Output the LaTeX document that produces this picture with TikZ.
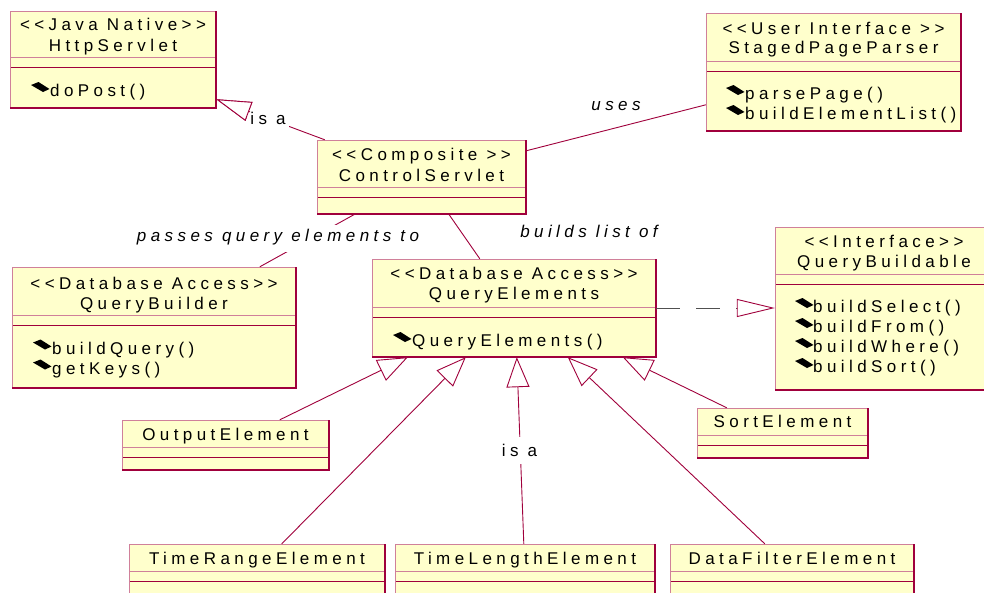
\documentclass[tikz,border=0pt]{standalone}
\usepackage{fontspec}
\newfontfamily\umlfont{Liberation Sans}[LetterSpace=26]
\usetikzlibrary{arrows.meta,calc,fit}

\definecolor{boxfill}{HTML}{FFFFCC}
\definecolor{maroon}{HTML}{A0003C}
\definecolor{edgelight}{HTML}{D0809A}
\definecolor{dashgray}{HTML}{505050}

\tikzset{
  umltext/.style={font=\umlfont\fontsize{17}{20}\selectfont, inner sep=0pt, text=black},
  titletext/.style={umltext, anchor=base},
  optext/.style={umltext, anchor=base west},
  lbltext/.style={umltext, anchor=base},
  conn/.style={draw=maroon, line width=0.9pt},
  gen/.style={conn, -{Triangle[length=30pt, width=23pt, fill=white]}},
  genwide/.style={conn, -{Triangle[length=35pt, width=20pt, fill=white]}},
  realize/.style={conn, -{Triangle[length=38pt, width=18pt, fill=white]}},
  dashline/.style={draw=dashgray, line width=0.9pt, dash pattern=on 24pt off 16pt},
}

% class frame: name, left, top, right, bottom, first divider
\newcommand\umlframe[6]{%
  \node[fit={(#2,#3) (#4,#5)}, inner sep=0pt] (#1) {};
  \fill[boxfill] (#2,#3) rectangle (#4,#5);
  \draw[edgelight, line width=1pt] (#2,#6) -- (#4,#6);
  \draw[maroon, line width=1pt] (#2,#6+10) -- (#4,#6+10);
  \draw[edgelight, line width=1pt] (#2,#5) -- (#2,#3) -- (#4,#3);
  \draw[maroon, line width=1.6pt] (#4,#3) -- (#4,#5) -- (#2,#5);
}
% operation marker: left x, baseline y
\newcommand\opicon[2]{%
  \fill[black] (#1,#2-11.5) -- (#1+7.5,#2-14.5) -- (#1+18.5,#2-7.5) -- (#1+12,#2-4.5) -- cycle;
}

\begin{document}
\begin{tikzpicture}[x=1pt,y=-1pt]
\clip (0,0) rectangle (984,592);
\fill[white] (0,0) rectangle (984,592);

% HttpServlet
\umlframe{http}{10}{11}{216}{108}{57}
\node[titletext] at (113,30) {<{}<Java Native>{}>};
\node[titletext] at (113,51.5) {HttpServlet};
\opicon{31}{96.5}
\node[optext] at (50,96.5) {doPost()};

% StagedPageParser
\umlframe{spp}{706}{13}{961}{131}{61}
\node[titletext] at (833.5,34) {<{}<User Interface >{}>};
\node[titletext] at (833.5,53.5) {StagedPageParser};
\opicon{726}{99.5}
\node[optext] at (745,99.5) {parsePage()};
\opicon{726}{119.5}
\node[optext] at (745,119.5) {buildElementList()};

% ControlServlet
\umlframe{cs}{317}{140}{526}{214}{187}
\node[titletext] at (421.5,160.5) {<{}<Composite >{}>};
\node[titletext] at (421.5,181) {ControlServlet};

% QueryElements
\umlframe{qe}{372}{259}{656}{357}{307}
\node[titletext] at (514,279.5) {<{}<Database Access>{}>};
\node[titletext] at (514,299.5) {QueryElements};
\opicon{393}{346.5}
\node[optext] at (412,346.5) {QueryElements()};

% QueryBuilder
\umlframe{qbld}{12}{267}{296}{388}{315}
\node[titletext] at (154,289) {<{}<Database Access>{}>};
\node[titletext] at (154,309) {QueryBuilder};
\opicon{33}{354}
\node[optext] at (52,354) {buildQuery()};
\opicon{33}{374}
\node[optext] at (52,374) {getKeys()};

% QueryBuildable
\umlframe{qba}{775}{227}{993}{390}{274}
\node[titletext] at (884,247) {<{}<Interface>{}>};
\node[titletext] at (884,267) {QueryBuildable};
\opicon{795}{312.5}
\node[optext] at (813,312.5) {buildSelect()};
\opicon{795}{332.5}
\node[optext] at (813,332.5) {buildFrom()};
\opicon{795}{352.5}
\node[optext] at (813,352.5) {buildWhere()};
\opicon{795}{372.5}
\node[optext] at (813,372.5) {buildSort()};

% element subclasses
\umlframe{out}{122}{420}{329}{470}{447}
\node[titletext] at (225.5,440) {OutputElement};
\umlframe{sort}{697}{408}{868}{458}{435}
\node[titletext] at (782.5,427) {SortElement};
\umlframe{tr}{129}{544}{385}{620}{571}
\node[titletext] at (257,564) {TimeRangeElement};
\umlframe{tl}{395}{544}{655}{620}{571}
\node[titletext] at (525,564) {TimeLengthElement};
\umlframe{df}{670}{544}{914}{620}{571}
\node[titletext] at (792,564) {DataFilterElement};

% ControlServlet is a HttpServlet
\coordinate (httpTip) at ($(http.south east)+(0,-9)$);
\coordinate (csCorner) at ($(cs.north west)+(8,0)$);
\draw[genwide] (csCorner) -- (httpTip);
\node[lbltext, fill=white, inner xsep=3pt, text height=14pt, text depth=4pt] at (268,124) {is a};
\draw[genwide] ($(httpTip)!36pt!(csCorner)$) -- (httpTip);

% ControlServlet uses StagedPageParser
\draw[conn] ($(cs.north east)+(0,11)$) -- ($(spp.north west)+(0,92)$);
\node[lbltext, font=\umlfont\itshape\fontsize{17}{20}\selectfont] at (616,110) {uses};

% ControlServlet passes query elements to QueryBuilder
\draw[conn] ($(cs.south west)+(38,0)$) -- ($(qbld.north west)+(248,0)$);
\node[lbltext, fill=white, font=\umlfont\itshape\fontsize{17}{20}\selectfont,
      text height=16pt, text depth=11pt] at (278,241) {passes query elements to};

% ControlServlet builds list of QueryElements
\draw[conn] ($(cs.south west)+(132,0)$) -- ($(qe.north west)+(108,0)$);
\node[lbltext, font=\umlfont\itshape\fontsize{17}{20}\selectfont] at (589,237) {builds list of};

% QueryElements realizes QueryBuildable
\coordinate (rbase) at ($(qba.west)+(-38,0)$);
\draw[dashline] (qe.east) -- (qe.east -| rbase);
\draw[realize] (qe.east -| rbase) -- (qe.east -| qba.west);

% subclasses of QueryElements
\draw[gen] ($(out.north west)+(158,0)$) -- ($(qe.south west)+(36,0)$);
\draw[gen] ($(tr.north west)+(153,0)$) -- ($(qe.south west)+(94,0)$);
\draw[gen] ($(tl.north west)+(129,0)$) -- ($(qe.south west)+(145,0)$);
\draw[gen] ($(df.north west)+(95,0)$) -- ($(qe.south west)+(196,0)$);
\draw[gen] ($(sort.north west)+(30,0)$) -- ($(qe.south west)+(251,0)$);
\node[lbltext, fill=white, inner xsep=2pt, text height=19pt, text depth=8pt] at (519.5,456) {is a};
\end{tikzpicture}
\end{document}
